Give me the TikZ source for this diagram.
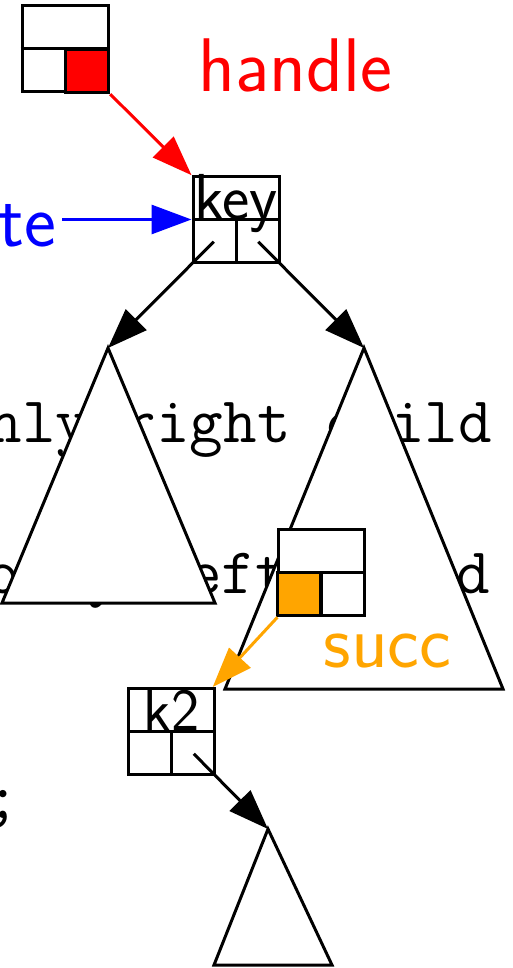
\documentclass[tikz,border=0pt]{standalone}
\usepackage{fontspec}
\usetikzlibrary{arrows.meta,calc}
\definecolor{succorange}{HTML}{FFA500}
\begin{document}
\begin{tikzpicture}[x=0.5pt,y=-0.5pt,
  nodebox/.style={draw, line width=1.5pt, fill=white, minimum size=43pt, inner sep=0pt},
  cellbox/.style={draw, line width=1.5pt, minimum size=21.5pt, inner sep=0pt},
  ptr/.style={line width=1.5pt, -{Triangle[length=20pt,width=14.5pt]}},
  subtree/.style={draw, line width=1.5pt, fill=white},
  codeline/.style={font=\fontsize{32.6}{38}\selectfont\ttfamily, anchor=base west, inner sep=0pt},
  tagtext/.style={font=\fontsize{38}{45}\selectfont\sffamily, anchor=base, inner sep=0pt},
  keytext/.style={font=\fontsize{32.5}{38}\selectfont\sffamily, anchor=base, inner sep=0pt}]
\useasboundingbox (0,0) rectangle (513,968);
\clip (0,0) rectangle (513,968);

\node[codeline] (c1) at (-45.5,442) {only right child};
\node[codeline] (c2) at (-13.5,593) {only left child};
\node[codeline] (c3) at (-13.5,818) {;};

\coordinate (lt) at (108,348);
\coordinate (rt) at (364,348);
\coordinate (st) at (268,829);
\draw[subtree] (lt) -- ++(-106,255) -- ++(213,0) -- cycle;
\draw[subtree] (rt) -- ++(-139,341) -- ++(278,0) -- cycle;
\draw[subtree] (st) -- ++(-54,136) -- ++(118,0) -- cycle;

\node[nodebox] (hd) at (65,49) {};
\node[cellbox, fill=red] (hd-r) at ($(hd.center)!0.5!(hd.south east)$) {};
\draw[line width=1.5pt] (hd.west) -- (hd.east) (hd.center) -- (hd.south);

\node[nodebox] (key) at (236,219.5) {};
\draw[line width=1.5pt] (key.west) -- (key.east) (key.center) -- (key.south);
\node[keytext] at (key.center) {key};
\coordinate (key-l) at ($(key.center)!0.5!(key.south west)$);
\coordinate (key-r) at ($(key.center)!0.5!(key.south east)$);

\node[nodebox] (sc) at (321,572) {};
\node[cellbox, fill=succorange] (sc-l) at ($(sc.center)!0.5!(sc.south west)$) {};
\draw[line width=1.5pt] (sc.west) -- (sc.east) (sc.center) -- (sc.south);

\node[nodebox] (k2) at (171.5,731.5) {};
\draw[line width=1.5pt] (k2.west) -- (k2.east) (k2.center) -- (k2.south);
\node[keytext, font=\fontsize{30}{36}\selectfont\sffamily] at ($(k2.center)+(0,-1.5)$) {k2};
\coordinate (k2-r) at ($(k2.center)!0.5!(k2.south east)$);

\node[tagtext, text=red] (hdl) at (295.5,92) {handle};
\node[tagtext, text=succorange] (scl) at (387.5,667) {succ};
\node[tagtext, text=blue, anchor=base west, inner sep=3pt] (dl) at (-8,247) {te};

\draw[ptr, red] (hd-r) -- (key);
\draw[ptr, blue] (key.west -| dl.east) -- (key.west);
\draw[ptr] (key-l) -- (lt);
\draw[ptr] (key-r) -- (rt);
\draw[ptr, succorange] (sc-l) -- (k2);
\draw[ptr] (k2-r) -- (st);
\end{tikzpicture}
\end{document}
